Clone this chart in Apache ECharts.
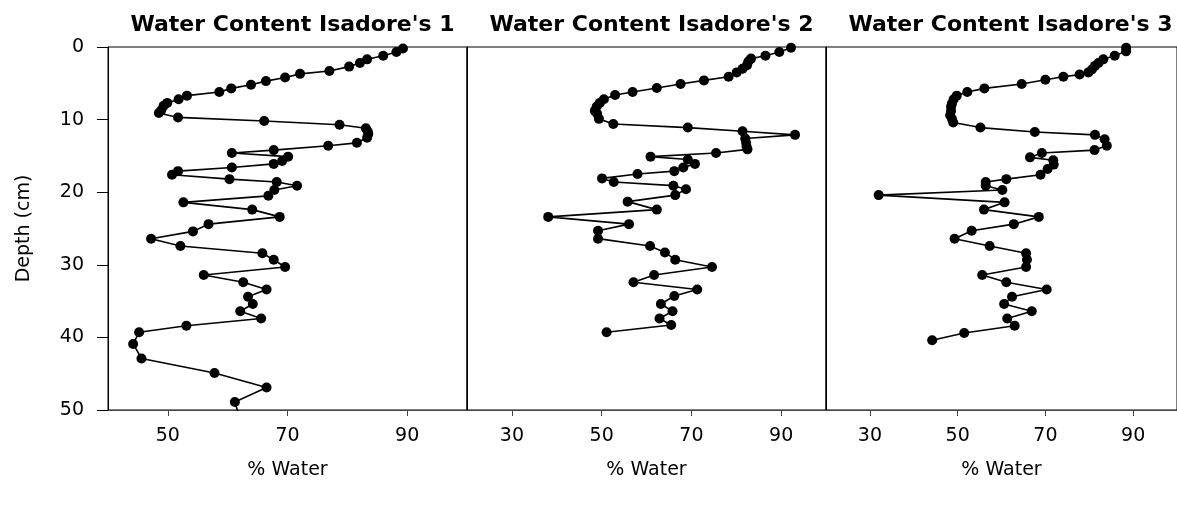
<!DOCTYPE html>
<html>
<head>
<meta charset="utf-8">
<script src="https://cdn.jsdelivr.net/npm/echarts@6/dist/echarts.min.js"></script>
<style>
html,body{margin:0;padding:0;background:#fff;}
#chart{width:1177px;height:508px;}
</style>
</head>
<body>
<div id="chart"></div>
<script>
const titles = ["Water Content Isadore's 1", "Water Content Isadore's 2", "Water Content Isadore's 3"];
const xAxisName = '% Water';
const yAxisName = 'Depth (cm)';
const yTicks = [0, 10, 20, 30, 40, 50];
const xTicks1 = [50, 70, 90];
const xTicks2 = [30, 50, 70, 90];
const xTicks3 = [30, 50, 70, 90];

const depth1 = [0.2,0.7,1.2,1.7,2.2,2.7,3.3,3.7,4.2,4.7,5.2,5.7,6.2,6.7,7.2,7.7,8.1,8.7,9.1,9.7,10.2,10.7,11.2,11.6,12.0,12.5,13.2,13.6,14.2,14.6,15.1,15.7,16.1,16.6,17.1,17.6,18.2,18.6,19.1,19.7,20.5,21.4,22.4,23.4,24.4,25.4,26.4,27.4,28.4,29.3,30.3,31.4,32.4,33.4,34.4,35.4,36.4,37.4,38.4,39.3,40.9,42.9,44.9,46.9,48.9,51];
const water1 = [89.3,88.2,86.0,83.3,82.1,80.3,77.0,72.1,69.6,66.4,63.9,60.6,58.6,53.2,51.8,49.9,49.3,48.9,48.5,51.7,66.1,78.7,83.1,83.4,83.5,83.3,81.6,76.8,67.7,60.7,70.1,69.1,67.7,60.7,51.7,50.7,60.3,68.2,71.6,67.8,66.8,52.6,64.1,68.7,56.8,54.2,47.2,52.1,65.8,67.7,69.6,56.0,62.6,66.5,63.4,64.2,62.1,65.6,53.1,45.2,44.2,45.6,57.8,66.5,61.2,62.0];

const depth2 = [0.1,0.7,1.2,1.6,2.0,2.5,3.0,3.5,4.1,4.6,5.1,5.65,6.2,6.6,7.2,7.7,8.2,8.8,9.2,9.9,10.6,11.1,11.6,12.1,12.6,13.2,13.7,14.1,14.6,15.1,15.5,16.1,16.6,17.1,17.5,18.1,18.6,19.1,19.6,20.4,21.3,22.4,23.4,24.4,25.3,26.4,27.4,28.3,29.3,30.3,31.4,32.4,33.4,34.3,35.4,36.4,37.4,38.3,39.3];
const water2 = [92.2,89.6,86.5,83.3,82.7,82.4,81.4,80.1,78.3,72.8,67.6,62.3,56.9,53.0,50.5,49.6,48.9,48.5,49.0,49.4,52.6,69.2,81.4,93.1,82.0,82.2,82.3,82.5,75.5,60.9,69.2,70.8,68.2,66.2,58.0,50.1,52.7,66.0,68.8,66.4,55.8,62.3,38.1,56.1,49.2,49.2,60.8,64.1,66.4,74.6,61.7,57.1,71.3,66.2,63.2,65.8,62.9,65.5,51.1];

const depth3 = [0.1,0.6,1.2,1.7,2.2,2.6,3.1,3.5,3.8,4.1,4.5,5.1,5.7,6.2,6.7,7.2,7.8,8.2,8.8,9.4,9.9,10.4,11.1,11.7,12.1,12.7,13.6,14.2,14.6,15.2,15.6,16.2,16.8,17.6,18.2,18.6,19.1,19.7,20.4,21.4,22.4,23.4,24.4,25.3,26.4,27.4,28.4,29.3,30.3,31.4,32.4,33.4,34.4,35.4,36.4,37.4,38.4,39.4,40.4];
const water3 = [88.4,88.4,85.8,83.2,82.1,81.3,80.6,79.8,77.8,74.1,70.0,64.6,56.1,52.2,49.8,49.1,48.7,48.5,48.5,48.3,48.7,49.0,55.2,67.6,81.3,83.5,84.0,81.2,69.2,66.5,71.8,71.9,70.5,68.9,61.1,56.4,56.4,60.2,32.0,60.7,56.0,68.5,62.8,53.2,49.3,57.3,65.6,65.8,65.6,55.6,61.1,70.3,62.4,60.6,66.9,61.3,63.0,51.5,44.2];

const panels = [
  {water: water1, depth: depth1, xmin: 40, xmax: 100, xticks: xTicks1},
  {water: water2, depth: depth2, xmin: 20, xmax: 100, xticks: xTicks2},
  {water: water3, depth: depth3, xmin: 20, xmax: 100, xticks: xTicks3}
];
const gridLefts = [108, 467, 826];
const gridWidth = 359;
const FONT = 'DejaVu Sans';

const chart = echarts.init(document.getElementById('chart'), null, {renderer: 'canvas'});

const option = {
  backgroundColor: '#fff',
  animation: false,
  title: titles.map((t, i) => ({
    text: t,
    left: gridLefts[i] + gridWidth / 2,
    textAlign: 'center',
    top: 9,
    textStyle: {fontFamily: FONT, fontSize: 22, fontWeight: 'bold', color: '#000'}
  })),
  grid: gridLefts.map(l => ({
    left: l, width: gridWidth, top: 47, height: 363,
    show: true, borderColor: '#000', borderWidth: 1, backgroundColor: 'transparent'
  })),
  xAxis: panels.map((p, i) => ({
    type: 'value', gridIndex: i, min: p.xmin, max: p.xmax,
    name: xAxisName, nameLocation: 'middle', nameGap: 51,
    nameTextStyle: {fontFamily: FONT, fontSize: 19, color: '#000'},
    axisLine: {show: true, onZero: false, lineStyle: {color: '#444', width: 1}},
    axisTick: {show: true, inside: false, length: 6, customValues: p.xticks, lineStyle: {color: '#444'}},
    axisLabel: {show: true, customValues: p.xticks, margin: 17, fontFamily: FONT, fontSize: 19, color: '#000'},
    splitLine: {show: false}
  })),
  yAxis: panels.map((p, i) => ({
    type: 'value', gridIndex: i, min: 0, max: 50, interval: 10, inverse: true,
    name: i === 0 ? yAxisName : '', nameLocation: 'middle', nameGap: 74,
    nameTextStyle: {fontFamily: FONT, fontSize: 19, color: '#000'},
    axisLine: {show: true, onZero: false, lineStyle: {color: '#000', width: 1}},
    axisTick: {show: i === 0, inside: false, length: 11, lineStyle: {color: '#000'}},
    axisLabel: {show: i === 0, margin: 24, fontFamily: FONT, fontSize: 19, color: '#000',
      customValues: yTicks},
    splitLine: {show: false}
  })),
  series: panels.map((p, i) => ({
    type: 'line', xAxisIndex: i, yAxisIndex: i,
    data: p.depth.map((d, k) => [p.water[k], d]),
    symbol: 'circle', symbolSize: 10, showAllSymbol: true,
    clip: true,
    lineStyle: {color: '#000', width: 1.6},
    itemStyle: {color: '#000'}
  }))
};
chart.setOption(option);
</script>
</body>
</html>
